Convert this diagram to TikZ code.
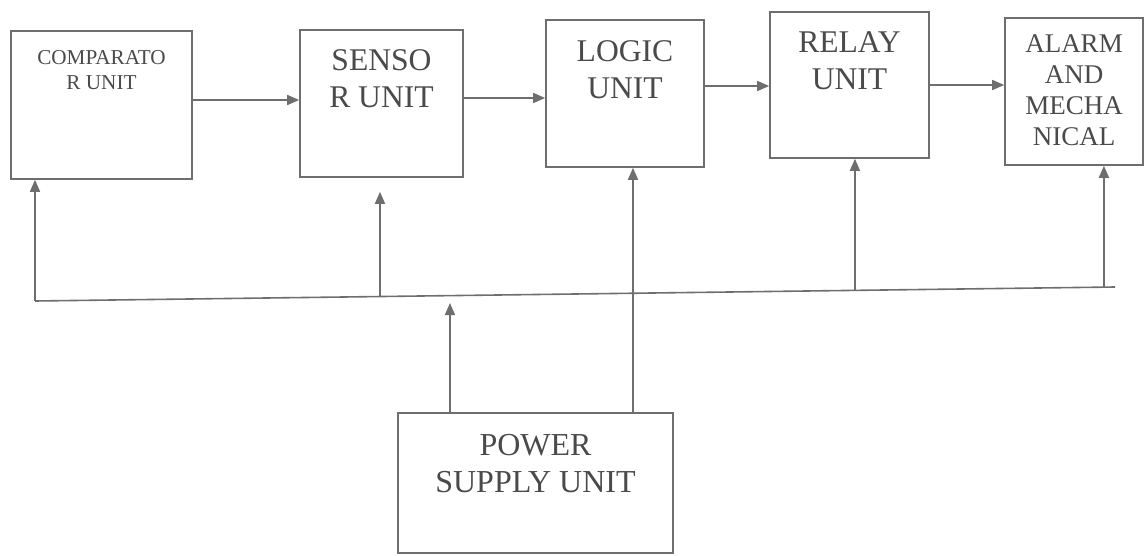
\documentclass[tikz,border=0pt]{standalone}
\usepackage{fontspec}
\setmainfont{Liberation Serif}
\usetikzlibrary{arrows.meta,calc}
\definecolor{vizline}{HTML}{6E6E6E}
\definecolor{vizink}{HTML}{4A4A4A}

\begin{document}
\begin{tikzpicture}[
    x=0.5pt, y=-0.5pt,
    unitbox/.style={draw=vizline, line width=0.8pt, inner sep=0pt},
    unitlbl/.style={anchor=north, align=center, inner sep=0pt, text=vizink},
    bigtext/.style={font=\fontsize{15.8}{18.5}\selectfont},
    flow/.style={-{Triangle[length=6pt,width=5pt]}, line width=0.8pt, draw=vizline},
    busline/.style={line width=0.8pt, draw=vizline}
]
\useasboundingbox (0,0) rectangle (1146,556);

% Chain of units along the top
\node[unitbox, minimum width=90.5pt, minimum height=74pt,
  label={[unitlbl, yshift=-10pt, font=\fontsize{10.6}{12.5}\selectfont]north:{COMPARATO\\R UNIT}}]
  (comparator) at (101.5,105) {};
\node[unitbox, minimum width=81.5pt, minimum height=73.5pt,
  label={[unitlbl, bigtext, yshift=-10pt]north:{SENSO\\R UNIT}}]
  (sensor) at (381.5,103.5) {};
\node[unitbox, minimum width=79pt, minimum height=73.5pt,
  label={[unitlbl, bigtext, yshift=-10.5pt]north:{LOGIC\\UNIT}}]
  (logic) at (625,93.5) {};
\node[unitbox, minimum width=79.5pt, minimum height=73pt,
  label={[unitlbl, bigtext, yshift=-10pt]north:{RELAY\\UNIT}}]
  (relay) at (849.5,85) {};
\node[unitbox, minimum width=69pt, minimum height=73.5pt,
  label={[unitlbl, yshift=-8.5pt, font=\fontsize{13.5}{15.5}\selectfont]north:{ALARM\\AND\\MECHA\\NICAL}}]
  (alarm) at (1074,91.5) {};

% Supply below the bus
\node[unitbox, minimum width=137.5pt, minimum height=70pt,
  label={[unitlbl, yshift=-11pt, font=\fontsize{16}{18.5}\selectfont]north:{POWER\\SUPPLY UNIT}}]
  (power) at (535.5,483) {};

\draw[flow] ([yshift=2.5pt]comparator.east) -- ([yshift=2.5pt]comparator.east -| sensor.west);
\draw[flow] ([yshift=2.75pt]sensor.east) -- ([yshift=2.75pt]sensor.east -| logic.west);
\draw[flow] ([yshift=3.75pt]logic.east) -- ([yshift=3.75pt]logic.east -| relay.west);
\draw[flow] (relay.east) -- (relay.east -| alarm.west);

% Common bus, fed from the supply
\coordinate (busL) at (35,301);
\coordinate (busE) at (1115,287);
\draw[busline] (busL) -- (busE);
\coordinate (tapS) at (intersection of busL--busE and 380,0--380,556);
\coordinate (tapP) at (intersection of busL--busE and 450,0--450,556);
\coordinate (tapR) at (intersection of busL--busE and 855,0--855,556);
\coordinate (tapA) at (intersection of busL--busE and 1104,0--1104,556);
\coordinate (feedL) at ([xshift=4pt]logic.south);

\draw[flow] (busL) -- (busL |- comparator.south);
\draw[flow] (tapS) -- ([yshift=-7pt]tapS |- sensor.south);
\draw[flow] (tapR) -- (tapR |- relay.south);
\draw[flow] (tapA) -- (tapA |- alarm.south);
\draw[flow] (power.north -| tapP) -- ([yshift=-3.7pt]tapP);
\draw[flow] (power.north -| feedL) -- (feedL);
\end{tikzpicture}
\end{document}
